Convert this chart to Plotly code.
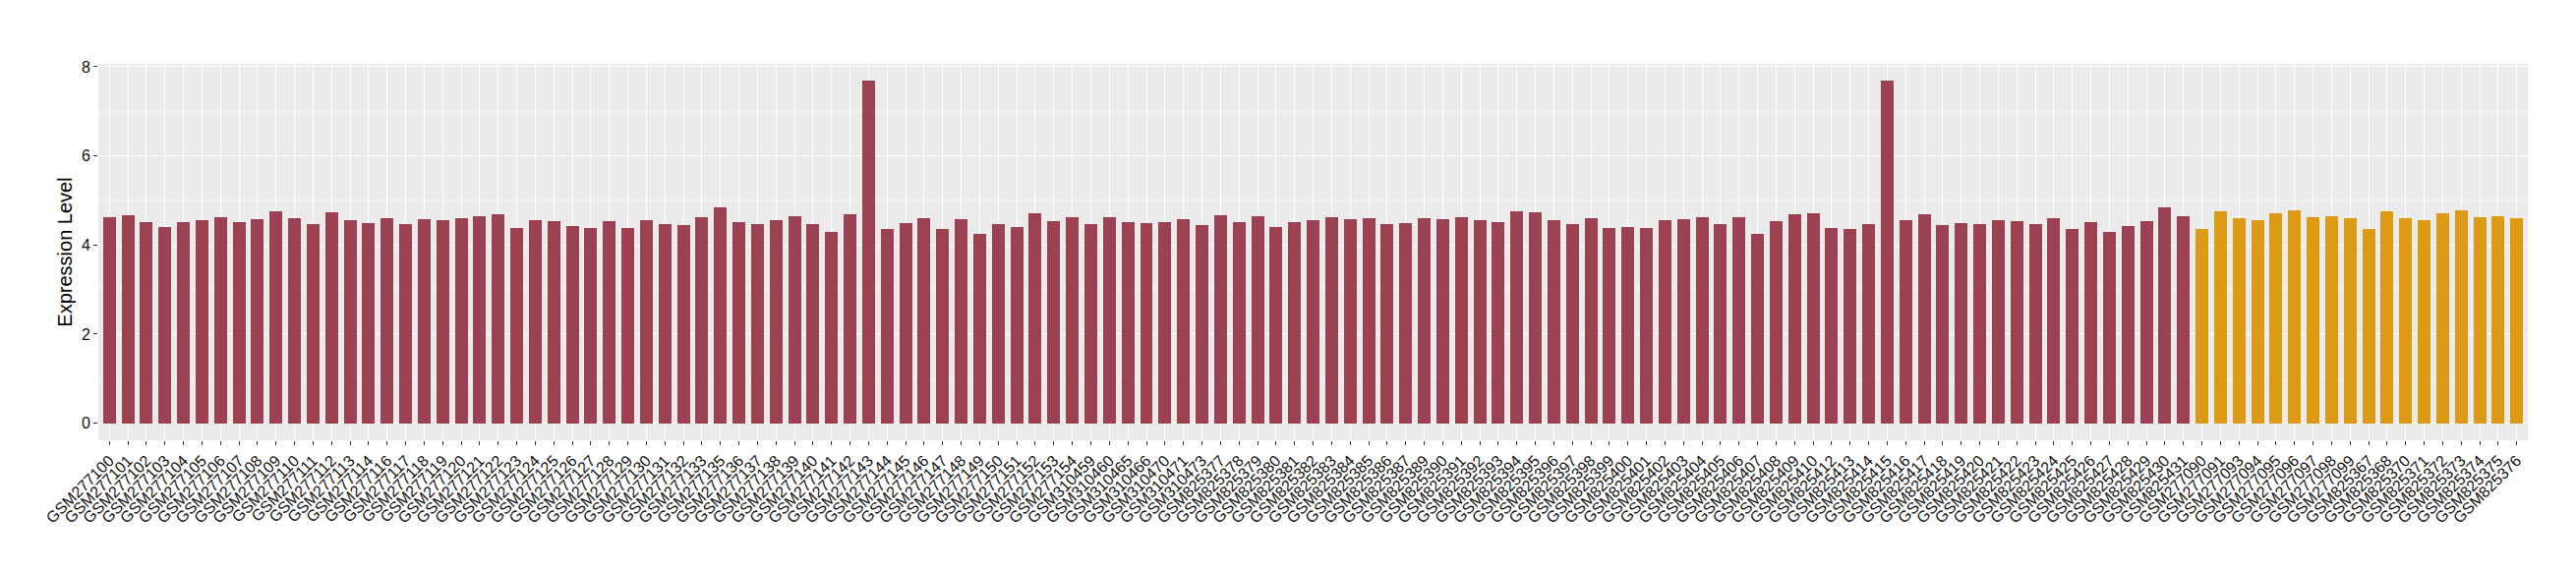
import plotly.graph_objects as go

samples = (
    ["GSM2771%02d" % n for n in list(range(0, 15)) + list(range(16, 34)) + list(range(35, 55))]
    + ["GSM310459", "GSM310460", "GSM310465", "GSM310466", "GSM310470", "GSM310471", "GSM310473"]
    + ["GSM825%d" % n for n in range(377, 432) if n not in (388, 411)]
    + ["GSM277090", "GSM277091", "GSM277093", "GSM277094", "GSM277095", "GSM277096",
       "GSM277097", "GSM277098", "GSM277099",
       "GSM825367", "GSM825368", "GSM825370", "GSM825371", "GSM825372", "GSM825373",
       "GSM825374", "GSM825375", "GSM825376"]
)

values = [
    # GSM277100-114
    4.62, 4.66, 4.51, 4.40, 4.51, 4.55, 4.62, 4.51, 4.57, 4.75, 4.60, 4.46, 4.73, 4.55, 4.49,
    # GSM277116-133
    4.60, 4.46, 4.57, 4.55, 4.60, 4.64, 4.68, 4.38, 4.55, 4.53, 4.42, 4.38, 4.53, 4.38, 4.55,
    4.46, 4.44, 4.62,
    # GSM277135-154
    4.84, 4.51, 4.46, 4.55, 4.64, 4.46, 4.29, 4.68, 7.68, 4.35, 4.49, 4.60, 4.35, 4.57, 4.24,
    4.46, 4.40, 4.71, 4.53, 4.62,
    # GSM3104xx
    4.46, 4.62, 4.51, 4.49, 4.51, 4.57, 4.44,
    # GSM825377-431
    4.66, 4.51, 4.64, 4.40, 4.51, 4.55, 4.62, 4.57, 4.60, 4.46, 4.49, 4.60, 4.57, 4.62, 4.55,
    4.51, 4.75, 4.73, 4.55, 4.46, 4.60, 4.38, 4.40, 4.38, 4.55, 4.57, 4.62, 4.46, 4.62, 4.24,
    4.53, 4.68, 4.71, 4.38, 4.35, 4.46, 7.68, 4.55, 4.68, 4.44, 4.49, 4.46, 4.55, 4.53, 4.46,
    4.60, 4.35, 4.51, 4.29, 4.42, 4.53, 4.84, 4.64,
    # second group
    4.35, 4.75, 4.60, 4.55, 4.71, 4.77, 4.62, 4.64, 4.60,
    4.35, 4.75, 4.60, 4.55, 4.71, 4.77, 4.62, 4.64, 4.60,
]

groups = ["A"] * 113 + ["B"] * 18
group_colors = {"A": "#9B4151", "B": "#DD9A14"}

fig = go.Figure()
fig.add_trace(go.Bar(
    x=samples,
    y=values,
    marker=dict(color=[group_colors[g] for g in groups], line=dict(width=0)),
    width=0.69,
    showlegend=False,
))

fig.update_layout(
    width=2620, height=580,
    margin=dict(l=92, r=57, t=57, b=140),
    paper_bgcolor="white",
    plot_bgcolor="#EBEBEB",
    font=dict(family="Liberation Sans, Arial, sans-serif", color="#1a1a1a", size=15),
    bargap=0,
)
fig.update_xaxes(
    type="category",
    categoryorder="array", categoryarray=samples,
    tickmode="array", tickvals=samples, ticktext=samples,
    range=[-0.6, len(samples) - 0.4],
    tickangle=-45,
    tickfont=dict(size=16, color="#111111"),
    showgrid=True, gridcolor="white", gridwidth=1,
    ticks="outside", ticklen=4, tickcolor="#333333", tickwidth=1,
    zeroline=False, showline=False, automargin=False,
)
fig.update_yaxes(
    range=[-0.384, 8.064],
    tickvals=[0, 2, 4, 6, 8],
    tickfont=dict(size=16, color="#111111"),
    showgrid=True, gridcolor="white", gridwidth=1.2,
    minor=dict(tickvals=[1, 3, 5, 7], showgrid=True, gridcolor="#F5F5F5", gridwidth=0.6, ticks=""),
    ticks="outside", ticklen=4, tickcolor="#333333", tickwidth=1,
    zeroline=False, showline=False, automargin=False,
    title=dict(text="Expression Level", font=dict(size=20, color="black"), standoff=3),
)

fig.write_html("out.html")
